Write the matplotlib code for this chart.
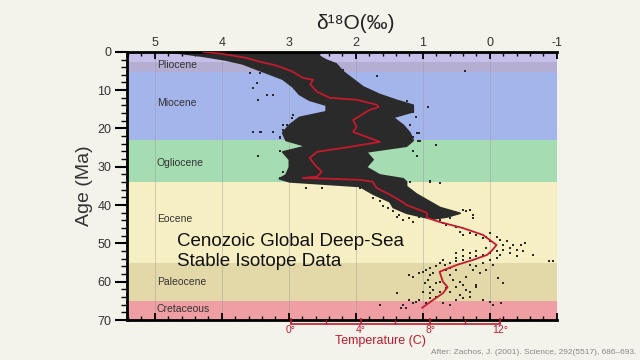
import numpy as np
import matplotlib
matplotlib.use("Agg")
import matplotlib.pyplot as plt
from matplotlib.ticker import MultipleLocator, FixedLocator

plt.rcParams['font.family'] = ['Liberation Sans', 'DejaVu Sans']

# epochs (Ma)
epoch_names = ['', 'Pliocene', 'Miocene', 'Ogliocene', 'Eocene', 'Paleocene', 'Cretaceous']
epoch_start = [0.0, 2.6, 5.3, 23.0, 33.9, 55.0, 65.0]
epoch_end = [2.6, 5.3, 23.0, 33.9, 55.0, 65.0, 70.0]
epoch_label_age = [None, 3.4, 13.3, 29.0, 43.6, 60.0, 67.1]
epoch_colors = ['#c6bfe9', '#b4aed2', '#a4b5ec', '#a6dcb1', '#f7efc4', '#e3d9a8', '#ef9fa3']

# smoothed curve (age Ma, d18O permil)
red_age = [0.0, 0.5, 1.6, 2.6, 3.5, 4.2, 5.2, 6.8, 7.3, 8.5, 10.4, 12.0, 12.5, 13.8, 14.4,
           15.2, 17.8, 19.6, 20.9, 22.2, 23.5, 24.8, 26.1, 27.7, 29.5, 31.3, 32.6, 32.9,
           33.4, 33.9, 35.5, 37.3, 39.2, 40.0, 42.0, 43.3, 44.4, 46.0, 47.8, 50.4, 51.7,
           53.0, 54.3, 55.6, 57.4, 60.0, 61.4, 63.0, 64.8, 66.8]
red_d18o = [4.28, 4.00, 3.63, 3.43, 3.20, 3.09, 2.94, 2.79, 2.64, 2.68, 2.58, 2.39, 1.99, 1.69, 1.66,
            1.80, 2.04, 1.99, 2.04, 1.84, 1.64, 2.09, 2.58, 2.69, 2.61, 2.51, 2.58, 2.79,
            1.94, 1.75, 1.69, 1.49, 1.30, 1.24, 0.94, 0.94, 0.75, 0.40, 0.10, -0.10, -0.04,
            0.04, 0.25, 0.49, 0.75, 0.70, 0.63, 0.70, 0.85, 1.01]

# dense cloud envelope
core_age = [0.0, 1.0, 2.0, 3.0, 5.0, 7.0, 9.0, 11.0, 12.5, 13.8, 15.5, 17.0, 19.0, 21.0, 23.0,
            24.5, 26.0, 28.0, 30.0, 32.0, 33.0, 33.8, 35.0, 37.0, 39.0, 40.5, 42.0, 43.0, 43.5]
core_left = [4.75, 4.30, 3.95, 3.70, 3.40, 3.10, 2.95, 2.85, 2.70, 2.45, 2.45, 2.85, 3.00, 3.10, 3.05,
             2.75, 3.10, 3.00, 3.00, 3.05, 3.15, 3.00, 1.95, 1.75, 1.50, 1.45, 1.25, 1.00, 0.85]
core_right = [2.55, 2.55, 2.45, 2.30, 2.20, 2.05, 1.90, 1.65, 1.40, 1.15, 1.15, 1.45, 1.30, 1.20, 1.15,
              1.25, 1.85, 1.75, 1.85, 1.65, 1.30, 1.25, 1.25, 1.10, 0.90, 0.75, 0.45, 0.65, 0.85]

# individual samples (d18O, age)
samples = [
    (4.78, 0.0), (4.88, 0.1), (4.58, 0.3), (2.99, 0.0), (2.84, 0.1), (2.19, 4.7), (2.09, 6.9),
    (3.58, 5.6), (3.43, 5.6), (3.48, 8.2), (3.53, 9.5), (3.46, 12.5), (3.33, 11.2), (3.23, 11.2),
    (1.69, 6.4), (0.37, 5.1), (1.59, 12.1), (1.49, 12.5), (1.39, 12.9), (0.92, 14.3), (1.10, 16.9),
    (1.15, 15.6), (1.05, 21.2), (1.07, 23.4), (0.80, 24.3), (0.90, 33.8), (0.75, 34.3),
    (3.46, 27.3), (3.53, 20.8), (3.43, 20.8), (3.23, 20.8), (3.13, 22.1), (3.08, 20.4), (3.03, 19.0),
    (2.94, 16.4), (2.96, 17.3), (3.08, 19.0), (3.41, 20.8), (3.13, 22.5), (1.24, 12.9), (1.34, 14.7),
    (1.19, 19.0), (1.14, 22.1), (1.09, 21.2), (1.04, 23.4),
    (3.13, 26.0), (3.08, 31.3), (3.13, 33.0), (2.74, 35.6), (2.51, 35.6), (1.19, 33.9), (0.90, 33.9),
    (1.14, 26.0), (1.09, 27.3), (1.74, 38.2), (1.94, 35.6), (1.39, 38.2), (1.19, 38.6),
    (0.99, 39.1), (0.90, 39.5),
    (1.74, 38.2), (1.64, 39.0), (1.59, 40.3), (1.52, 40.8), (1.44, 41.6), (1.39, 43.0), (1.35, 42.5),
    (1.30, 43.8), (1.20, 43.4), (1.15, 44.3), (1.05, 43.0), (0.90, 43.4), (0.80, 42.5), (0.75, 43.8),
    (0.70, 44.7), (0.65, 45.1), (0.60, 43.4), (0.50, 42.1), (0.40, 41.2), (0.30, 41.2), (0.25, 42.5),
    (0.25, 43.4), (0.35, 41.6), (0.50, 45.6), (0.45, 46.9), (0.40, 47.7), (0.30, 47.3), (0.20, 47.7),
    (0.10, 48.6), (0.05, 48.2), (0.00, 47.3), (-0.10, 48.2), (-0.15, 49.0), (-0.20, 50.3),
    (-0.25, 49.5), (-0.30, 51.2), (-0.35, 50.3), (-0.40, 51.6), (-0.47, 50.3), (-0.52, 49.9),
    (0.00, 49.5), (0.05, 51.2), (-0.10, 52.1), (-0.15, 53.0), (0.50, 52.5), (0.40, 51.6),
    (0.30, 52.5), (0.20, 52.1),
    (1.20, 58.2), (1.15, 58.8), (1.05, 57.8), (1.00, 57.4), (0.95, 56.9), (0.90, 56.5), (0.90, 58.2),
    (0.85, 57.6), (0.92, 59.5), (0.97, 60.4), (0.90, 61.3), (0.80, 60.4), (0.75, 60.0), (1.00, 62.6),
    (0.90, 63.0), (0.85, 62.1), (0.75, 62.6), (0.80, 63.9), (0.90, 64.3), (1.05, 64.7), (1.10, 65.2),
    (1.20, 64.7), (1.15, 65.6), (1.30, 66.0), (1.32, 66.9), (1.39, 63.0), (1.25, 66.9), (1.64, 66.0),
    (0.95, 65.6), (0.70, 65.6), (0.60, 66.0), (0.50, 64.7), (0.40, 64.3), (0.30, 63.9), (0.35, 62.1),
    (0.40, 60.8), (0.45, 60.0), (0.50, 61.3), (0.55, 59.5), (0.60, 58.2), (0.65, 56.9), (0.67, 55.6),
    (0.60, 55.2), (0.50, 54.7), (0.40, 54.3), (0.30, 53.9), (0.20, 53.4), (0.10, 53.0), (0.00, 52.6),
    (-0.10, 52.1), (-0.20, 51.7), (-0.30, 52.6), (-0.40, 53.4), (0.30, 55.6), (0.20, 56.0),
    (0.10, 55.2), (0.00, 54.3), (-0.10, 53.9), (-0.20, 60.4), (-0.12, 59.1), (0.20, 61.3),
    (0.10, 64.7), (0.00, 65.2), (-0.05, 66.0), (-0.17, 65.6), (-0.50, 52.1), (-0.64, 53.0),
    (-0.89, 54.7), (-0.94, 54.7), (0.25, 56.9), (0.15, 57.8), (0.35, 58.7), (0.50, 56.9),
    (0.65, 61.7), (0.60, 62.6), (0.45, 63.4), (0.30, 62.6), (0.20, 60.8), (0.05, 56.9),
    (-0.05, 55.6), (0.40, 53.4), (0.50, 53.9), (0.60, 56.5), (0.80, 56.0), (0.75, 55.2), (0.70, 54.3),
]
pts = np.array(samples)

temp_ticks = [0, 4, 8, 12]
temp_minor = [2, 6, 10]
temp_labels = ['0°', '4°', '8°', '12°']

red = '#c41a2e'
dark = '#2a2a2a'

fig = plt.figure(figsize=(6.4, 3.6), dpi=100)
fig.patch.set_facecolor('#f3f2eb')
ax = fig.add_axes([0.198, 0.111, 0.672, 0.745])

for s, e, c in zip(epoch_start, epoch_end, epoch_colors):
    ax.axhspan(s, e, color=c, lw=0, zorder=0)
for x in range(-1, 6):
    ax.axvline(x, color='#999999', lw=0.6, alpha=0.5, zorder=1)

ax.fill_betweenx(core_age, core_left, core_right, color=dark, lw=1.2, edgecolor=dark, zorder=2)
ax.scatter(pts[:, 0], pts[:, 1], s=4, marker='s', color=dark, lw=0, zorder=2)
ax.plot(red_d18o, red_age, color=red, lw=1.3, zorder=3)

for name, a in zip(epoch_names, epoch_label_age):
    if a is not None:
        ax.text(4.97, a, name, fontsize=7.5, color='#333333', va='center', ha='left', zorder=4)

ax.text(4.67, 52.2, 'Cenozoic Global Deep-Sea\nStable Isotope Data', fontsize=13.5,
        va='center', ha='left', linespacing=1.25, color='#111111', zorder=4)

ax.set_xlim(5.42, -1)
ax.set_ylim(70, 0)
ax.tick_params(axis='x', which='both', top=True, bottom=True, labeltop=True, labelbottom=False,
               direction='in', labelsize=9, labelcolor='#333333', pad=2)
ax.tick_params(axis='x', which='major', length=5, width=1.3)
ax.tick_params(axis='x', which='minor', length=3, width=1)
ax.set_xticks(range(-1, 6))
ax.set_xticklabels([str(v) for v in range(-1, 6)])
ax.xaxis.set_minor_locator(MultipleLocator(0.2))

ax.yaxis.set_major_locator(MultipleLocator(10))
ax.yaxis.set_minor_locator(MultipleLocator(2))
ax.tick_params(axis='y', which='major', direction='out', length=9, width=1.5,
               labelsize=9, labelcolor='#333333', pad=2)
ax.tick_params(axis='y', which='minor', direction='out', length=4, width=1)
ax.set_ylabel('Age (Ma)', fontsize=14, color='#333333', labelpad=3)

for sp in ['top', 'bottom', 'left']:
    ax.spines[sp].set_linewidth(2)
ax.spines['right'].set_visible(False)

fig.text(0.555, 0.935, 'δ¹⁸O(‰)', fontsize=15, ha='center', va='center', color='#222222')

# temperature axis
d_lo, d_hi = ax.get_xlim()
tax = fig.add_axes([0.198, 0.1, 0.672, 0.0001])
tax.patch.set_alpha(0)
tax.set_xlim((2.97 - d_lo) * 3.846, (2.97 - d_hi) * 3.846)
tax.set_yticks([])
for sp in ['top', 'left', 'right']:
    tax.spines[sp].set_visible(False)
tax.spines['bottom'].set_color(red)
tax.spines['bottom'].set_linewidth(1.2)
tax.spines['bottom'].set_bounds(0, 12)
tax.set_xticks(temp_ticks)
tax.set_xticklabels(temp_labels)
tax.xaxis.set_minor_locator(FixedLocator(temp_minor))
tax.tick_params(axis='x', which='both', direction='in', colors=red, labelsize=7.5, pad=1)
tax.tick_params(axis='x', which='major', length=4, width=1.2)
tax.tick_params(axis='x', which='minor', length=3, width=1)
fig.text(0.594, 0.052, 'Temperature (C)', fontsize=9, color=red, ha='center', va='center')

fig.text(0.995, 0.022, 'After: Zachos, J. (2001). Science, 292(5517), 686–693.',
         fontsize=6, color='#888888', ha='right', va='center')

fig.savefig('out.png', dpi=100, facecolor=fig.get_facecolor())
